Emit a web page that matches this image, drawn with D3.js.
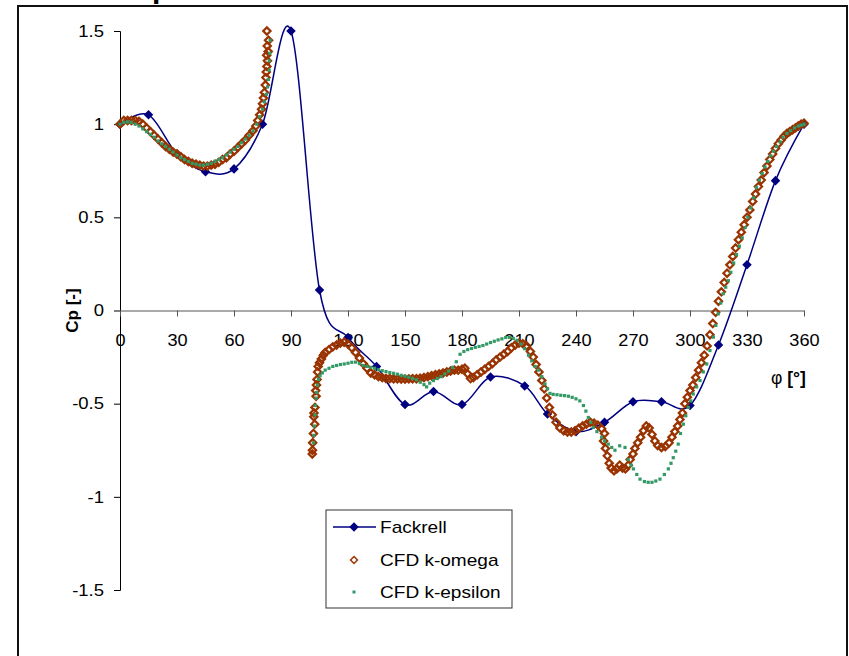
<!DOCTYPE html>
<html>
<head>
<meta charset="utf-8">
<script src="https://cdn.jsdelivr.net/npm/d3@7"></script>
<style>
  body { margin: 0; background: #fff; }
  text { font-family: "Liberation Sans", Arial, sans-serif; }
</style>
</head>
<body>
<script>
var svgWidth = 849;
var svgHeight = 656;

// Fackrell measurements
var fackrellPhi = [0, 15, 30, 45, 60, 75, 90, 105, 120, 135, 150, 165, 180, 195, 213, 225, 240, 255, 270, 285, 300, 315, 330, 345, 360];
var fackrellCp = [1.0, 1.05, 0.84, 0.745, 0.76, 1.0, 1.5, 0.11, -0.145, -0.30, -0.505, -0.435, -0.505, -0.357, -0.405, -0.555, -0.65, -0.60, -0.49, -0.49, -0.51, -0.185, 0.246, 0.697, 1.0];

// CFD k-omega
var omegaPhi = [0, 2, 4, 6, 8, 10, 12, 14, 16, 18, 20, 22, 24, 26, 28, 30, 32, 34, 36, 38, 40, 42, 44, 46, 48, 50, 52, 54, 56, 58, 60, 62, 64, 66, 68, 70, 71.5, 72.5, 73.5, 74.5, 75, 75.5, 76, 76.5, 76.8, 77, 77.3, 77.6, 77.2, 78, 77.5, 78.2, 77.3,
  101.2, 101.3, 101.4, 101.8, 102.5, 102, 102.1, 102.6, 103.2, 103, 103.4, 103.7, 104, 104.3, 105, 106, 107, 108, 110, 112, 114, 116, 118, 120, 122, 124, 126, 128, 130, 132, 134, 136, 138, 140, 142, 144, 146, 148, 150, 152, 154, 156, 158, 160, 162, 164, 166, 168, 170, 172, 174, 176, 178, 180, 181.5, 183, 184.5, 186, 188, 190, 192, 194, 196, 198, 200, 202, 204, 206, 208, 210, 212, 214, 216, 217.5, 219, 220.5, 222, 223.3, 224.6, 226, 227.5, 229.5, 231.5, 233.5, 235.5, 237.5, 239.5, 241.5, 243.5, 245.5, 247.5, 249.5, 251.5, 253.5, 255, 254.5, 255.5, 256.5, 257.5, 258.5, 260, 261.5, 263, 264.5, 266, 267.5, 268.5, 270, 271, 272.5, 274, 275.5, 277, 278.5, 280, 281.5, 283, 285, 287, 289, 290.5, 292, 293.5, 294.7, 296, 297.3, 298.6, 300, 301.5, 303, 304.5, 306, 307.5, 309, 310.5, 312, 313.5, 315, 316.5, 318, 319.5, 321, 322.5, 324, 325.5, 327, 328.5, 330, 331.5, 333, 334.5, 336, 337.5, 339, 340.5, 342, 343.5, 345, 346.5, 348, 349.5, 351, 352.5, 354, 355.5, 357, 358.5, 360];
var omegaCp = [1.0, 1.02, 1.02, 1.02, 1.02, 1.015, 1.0, 0.98, 0.96, 0.94, 0.92, 0.9, 0.88, 0.865, 0.85, 0.84, 0.825, 0.81, 0.8, 0.79, 0.785, 0.78, 0.775, 0.775, 0.78, 0.785, 0.795, 0.81, 0.82, 0.84, 0.855, 0.875, 0.895, 0.915, 0.94, 0.965, 0.99, 1.02, 1.05, 1.08, 1.11, 1.14, 1.17, 1.21, 1.25, 1.28, 1.31, 1.34, 1.37, 1.39, 1.42, 1.45, 1.5,
  -0.77, -0.75, -0.71, -0.66, -0.61, -0.57, -0.55, -0.52, -0.46, -0.43, -0.4, -0.37, -0.33, -0.3, -0.28, -0.26, -0.24, -0.225, -0.21, -0.195, -0.185, -0.175, -0.17, -0.18, -0.2, -0.225, -0.255, -0.285, -0.31, -0.335, -0.345, -0.355, -0.36, -0.365, -0.365, -0.367, -0.367, -0.368, -0.368, -0.367, -0.366, -0.366, -0.364, -0.36, -0.355, -0.35, -0.345, -0.34, -0.335, -0.33, -0.325, -0.32, -0.32, -0.315, -0.31, -0.34, -0.365, -0.36, -0.345, -0.33, -0.315, -0.3, -0.285, -0.265, -0.25, -0.235, -0.22, -0.2, -0.185, -0.175, -0.178, -0.19, -0.22, -0.25, -0.29, -0.33, -0.375, -0.42, -0.47, -0.52, -0.56, -0.6, -0.63, -0.645, -0.652, -0.652, -0.645, -0.632, -0.62, -0.61, -0.6, -0.605, -0.615, -0.635, -0.66, -0.7, -0.74, -0.78, -0.82, -0.845, -0.86, -0.85, -0.83, -0.845, -0.85, -0.83, -0.8, -0.77, -0.74, -0.71, -0.68, -0.645, -0.62, -0.63, -0.665, -0.7, -0.725, -0.735, -0.73, -0.71, -0.68, -0.65, -0.62, -0.585, -0.55, -0.5, -0.465, -0.43, -0.4, -0.36, -0.32, -0.28, -0.24, -0.19, -0.13, -0.07, -0.01, 0.05, 0.1, 0.15, 0.2, 0.245, 0.29, 0.335, 0.38, 0.42, 0.46, 0.5, 0.54, 0.585, 0.625, 0.665, 0.7, 0.74, 0.775, 0.81, 0.84, 0.87, 0.895, 0.915, 0.935, 0.95, 0.96, 0.97, 0.98, 0.99, 1.0, 1.005];

// CFD k-epsilon
var epsPhi = [0, 2, 4, 6, 8, 10, 12, 14, 16, 18, 20, 22, 24, 26, 28, 30, 32, 34, 36, 38, 40, 42, 44, 46, 48, 50, 52, 54, 56, 58, 60, 62, 64, 66, 68, 70, 72, 73.5, 75, 76, 77, 77.7, 78.1, 78.5, 78.6, 78.8, 79,
  101.8, 102, 102.3, 102.6, 102.8, 103.2, 103.5, 103.9, 104.5, 105.3, 106.5, 108, 110, 112, 114, 116, 118, 120, 122, 124, 126, 128, 130, 132, 134, 136, 138, 140, 142, 144, 146, 148, 150, 152, 154, 156, 158, 160, 161.4, 163, 165, 167, 169, 171, 173, 175, 177, 179, 181, 183, 185, 187, 189, 191, 193, 195, 197, 199, 201, 203, 205, 207, 209, 211, 213, 215, 216.7, 218.5, 220.2, 222, 223.7, 225, 226.3, 228, 230, 232, 234, 236, 238, 240, 242, 243.9, 245.2, 246.5, 247.8, 249.1, 251, 253.5, 255, 257, 258.8, 260.5, 263, 265.8, 267.5, 269, 270.2, 272, 273.7, 276, 278, 280, 282, 284.2, 286.5, 288.6, 290, 291.2, 292.5, 293.8, 295, 296.5, 297.8, 299.1, 300.4, 301.7, 303.5, 305.3, 307, 308.8, 310.5, 312.3, 313.6, 314.9, 316.2, 317.5, 318.8, 320.2, 321.5, 323, 324.5, 326, 327.5, 329, 330.4, 332, 333.5, 335, 336.5, 338, 339.5, 341, 342.5, 344, 345.6, 347.5, 349, 351, 353, 355, 357, 358.5, 360];
var epsCp = [1.0, 1.01, 1.012, 1.01, 1.0, 0.99, 0.975, 0.96, 0.945, 0.93, 0.91, 0.895, 0.88, 0.865, 0.85, 0.835, 0.82, 0.81, 0.8, 0.79, 0.785, 0.78, 0.78, 0.785, 0.79, 0.8, 0.81, 0.82, 0.835, 0.85, 0.865, 0.88, 0.9, 0.92, 0.94, 0.965, 1.0, 1.04, 1.08, 1.12, 1.16, 1.2, 1.24, 1.29, 1.34, 1.38, 1.45,
  -0.71, -0.67, -0.62, -0.56, -0.51, -0.47, -0.44, -0.4, -0.37, -0.35, -0.335, -0.32, -0.31, -0.3, -0.295, -0.29, -0.287, -0.283, -0.278, -0.277, -0.285, -0.295, -0.3, -0.305, -0.31, -0.318, -0.323, -0.328, -0.333, -0.337, -0.342, -0.348, -0.353, -0.358, -0.365, -0.372, -0.385, -0.398, -0.41, -0.39, -0.376, -0.365, -0.355, -0.34, -0.325, -0.305, -0.275, -0.235, -0.22, -0.21, -0.204, -0.198, -0.193, -0.188, -0.18, -0.172, -0.165, -0.158, -0.152, -0.145, -0.145, -0.15, -0.16, -0.18, -0.205, -0.24, -0.27, -0.3, -0.32, -0.355, -0.394, -0.42, -0.445, -0.45, -0.452, -0.455, -0.457, -0.46, -0.466, -0.474, -0.485, -0.51, -0.54, -0.574, -0.6, -0.627, -0.65, -0.68, -0.7, -0.717, -0.735, -0.75, -0.726, -0.735, -0.8, -0.83, -0.85, -0.88, -0.905, -0.918, -0.922, -0.922, -0.915, -0.905, -0.88, -0.85, -0.82, -0.79, -0.755, -0.717, -0.66, -0.61, -0.565, -0.52, -0.485, -0.448, -0.41, -0.376, -0.33, -0.287, -0.215, -0.143, -0.08, -0.018, 0.04, 0.09, 0.125, 0.16, 0.205, 0.255, 0.3, 0.345, 0.39, 0.445, 0.5, 0.55, 0.605, 0.66, 0.7, 0.735, 0.77, 0.8, 0.83, 0.855, 0.88, 0.905, 0.93, 0.95, 0.965, 0.98, 0.99, 0.995, 1.0];

var xTicks = [0, 30, 60, 90, 120, 150, 180, 210, 240, 270, 300, 330, 360];
var yTicks = [-1.5, -1, -0.5, 0, 0.5, 1, 1.5];
var seriesNames = ["Fackrell", "CFD k-omega", "CFD k-epsilon"];

var fackrell = fackrellPhi.map((p, i) => ({phi: p, cp: fackrellCp[i]}));
var omega = omegaPhi.map((p, i) => ({phi: p, cp: omegaCp[i]}));
var eps = epsPhi.map((p, i) => ({phi: p, cp: epsCp[i]}));

// the original picture is a little wider than tall, so text runs wide
function widen(sel, f) {
  sel.each(function() {
    var len = this.getComputedTextLength();
    d3.select(this)
      .attr("textLength", len * f)
      .attr("lengthAdjust", "spacingAndGlyphs");
  });
}

var svg = d3.select("body")
  .append("svg")
  .attr("width", svgWidth)
  .attr("height", svgHeight);

svg.append("rect")
  .attr("width", svgWidth)
  .attr("height", svgHeight)
  .attr("fill", "#fff");

// title, cut off above the frame
svg.append("text")
  .attr("x", 152)
  .attr("y", -2)
  .style("font-size", "30px")
  .style("font-weight", "bold")
  .text("p");

// outer frame
svg.append("rect")
  .attr("x", 18)
  .attr("y", 6)
  .attr("width", 829)
  .attr("height", 700)
  .attr("fill", "none")
  .attr("stroke", "#111")
  .attr("stroke-width", 2);

var x = d3.scaleLinear().domain([0, 360]).range([120, 804]);
var y = d3.scaleLinear().domain([-1.5, 1.5]).range([590, 31]);

// y axis
var leftAxis = d3.axisLeft(y)
  .tickValues(yTicks)
  .tickFormat(d => String(d))
  .tickSize(6)
  .tickPadding(10);

var gy = svg.append("g")
  .attr("transform", "translate(120,0)")
  .call(leftAxis);
gy.selectAll("text").style("font-size", "16.5px").attr("fill", "#000").call(widen, 1.12);
gy.selectAll("line, path").attr("stroke", "#000");

// x axis sits at Cp = 0
var bottomAxis = d3.axisBottom(x)
  .tickValues(xTicks)
  .tickSizeInner(6)
  .tickSizeOuter(0)
  .tickPadding(18);

var gx = svg.append("g")
  .attr("transform", `translate(0,${y(0)})`)
  .call(bottomAxis);
gx.selectAll("text").style("font-size", "16.5px").attr("fill", "#000").call(widen, 1.1);
gx.selectAll("line, path").attr("stroke", "#555");

// axis titles
svg.append("text")
  .attr("transform", `translate(78,${y(0)}) rotate(-90)`)
  .attr("text-anchor", "middle")
  .style("font-size", "17px")
  .style("font-weight", "bold")
  .text("Cp [-]");

var xt = svg.append("text")
  .attr("x", 771)
  .attr("y", 384)
  .style("font-size", "17.5px");
xt.append("tspan").text("φ ");
xt.append("tspan").style("font-weight", "bold").text("[°]");

// Fackrell: smoothed line with filled diamonds
var line = d3.line()
  .x(d => x(d.phi))
  .y(d => y(d.cp))
  .curve(d3.curveCatmullRom.alpha(0));

svg.append("path")
  .datum(fackrell)
  .attr("d", line)
  .attr("fill", "none")
  .attr("stroke", "#000080")
  .attr("stroke-width", 1.5);

var diamond = d3.symbol().type(d3.symbolDiamond2);

svg.selectAll(".fk")
  .data(fackrell)
  .enter()
  .append("path")
  .attr("class", "fk")
  .attr("transform", d => `translate(${x(d.phi)},${y(d.cp)})`)
  .attr("d", diamond.size(58)())
  .attr("fill", "#000080");

// k-omega: hollow diamonds
svg.selectAll(".om")
  .data(omega)
  .enter()
  .append("path")
  .attr("class", "om")
  .attr("transform", d => `translate(${x(d.phi)},${y(d.cp)})`)
  .attr("d", diamond.size(34)())
  .attr("fill", "none")
  .attr("stroke", "#993300")
  .attr("stroke-width", 2.2);

// k-epsilon: small squares
svg.selectAll(".ep")
  .data(eps)
  .enter()
  .append("rect")
  .attr("class", "ep")
  .attr("x", d => x(d.phi) - 1.6)
  .attr("y", d => y(d.cp) - 1.6)
  .attr("width", 3.2)
  .attr("height", 3.2)
  .attr("fill", "#339966");

// legend
var legend = svg.append("g");
legend.append("rect")
  .attr("x", 326)
  .attr("y", 510)
  .attr("width", 186)
  .attr("height", 98)
  .attr("fill", "#fff")
  .attr("stroke", "#333")
  .attr("stroke-width", 1);

var rowY = [527, 560, 592];
seriesNames.forEach(function(name, i) {
  var ly = rowY[i];
  if (i === 0) {
    legend.append("line")
      .attr("x1", 333).attr("x2", 376)
      .attr("y1", ly).attr("y2", ly)
      .attr("stroke", "#000080")
      .attr("stroke-width", 1.5);
    legend.append("path")
      .attr("transform", `translate(354,${ly})`)
      .attr("d", diamond.size(58)())
      .attr("fill", "#000080");
  } else if (i === 1) {
    legend.append("path")
      .attr("transform", `translate(354,${ly})`)
      .attr("d", diamond.size(30)())
      .attr("fill", "none")
      .attr("stroke", "#993300")
      .attr("stroke-width", 1.5);
  } else {
    legend.append("rect")
      .attr("x", 352.5).attr("y", ly - 1.5)
      .attr("width", 3).attr("height", 3)
      .attr("fill", "#339966");
  }
  legend.append("text")
    .attr("x", 380)
    .attr("y", ly + 6)
    .style("font-size", "17px")
    .text(name)
    .call(widen, 1.12);
});
</script>
</body>
</html>
